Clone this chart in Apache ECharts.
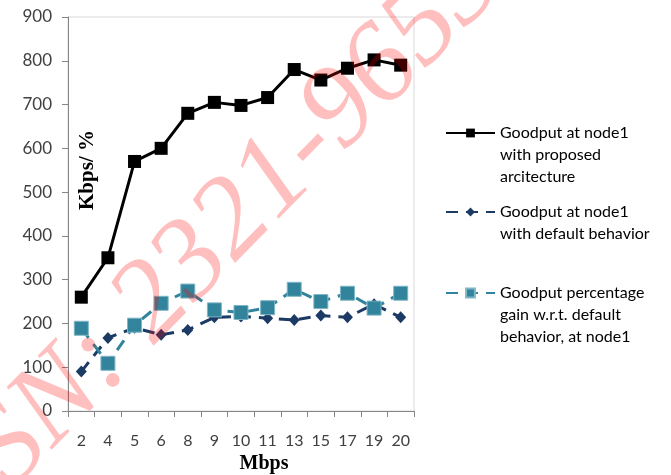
<!DOCTYPE html>
<html><head><meta charset="utf-8">
<script src="https://cdn.jsdelivr.net/npm/echarts@6/dist/echarts.min.js"></script>
<style>html,body{margin:0;padding:0;background:#fff}#c{width:671px;height:475px}</style>
</head><body><div id="c"></div>
<script>
const categories = ['2','4','5','6','8','9','10','11','13','15','17','19','20'];
const proposed = [260,350,570,600,680,705,698,716,780,756,783,802,790];
const defaultBeh = [90,167,190,174,185,214,216,212,208,218,214,244,214];
const gain = [189,109,196,246,274,231,225,236,278,250,269,235,269];
const yMin = 0, yMax = 900, yInterval = 100;
const seriesNames = [
  'Goodput at node1\nwith proposed\narcitecture',
  'Goodput at node1\nwith default behavior',
  'Goodput percentage\ngain w.r.t. default\nbehavior, at node1'
];
const xTitle = 'Mbps';
const yTitle = 'Kbps/ %';
const watermark = 'ISSN: 2321-9653';

const chart = echarts.init(document.getElementById('c'), null, {renderer:'canvas'});
const LH = 22;
function legendFor(i, top){
  return {
    left: 445, top: top, padding: 0, orient: 'vertical',
    itemWidth: 49, itemHeight: 11,
    data: [seriesNames[i]],
    formatter: function(name){ const n = name.split('\n').length; return ' \n'.repeat(n-1) + name; },
    textStyle: {fontFamily:'Lato', fontSize:16, color:'#000', lineHeight:LH}
  };
}
chart.setOption({
  animation: false,
  backgroundColor: '#fff',
  grid: {left:68, right:257, top:17, bottom:64, show:true, borderColor:'#d9d9d9', borderWidth:1,
         containLabel:false, outerBoundsMode:'none'},
  legend: [legendFor(0, 78), legendFor(1, 179), legendFor(2, 238)],
  xAxis: {
    type:'category', data: categories, boundaryGap: true,
    axisLine:{lineStyle:{color:'#868686', width:1}},
    axisTick:{show:true, length:6, lineStyle:{color:'#868686'}},
    axisLabel:{interval:0, margin:22, fontFamily:'Lato', fontSize:16, color:'#404040'},
    splitLine:{show:false},
    name: xTitle, nameLocation:'middle', nameGap:38,
    nameTextStyle:{fontFamily:'Liberation Serif', fontWeight:'bold', fontSize:20, color:'#000', padding:[0,0,0,46]}
  },
  yAxis: {
    type:'value', min:yMin, max:yMax, interval:yInterval,
    axisLine:{show:true, lineStyle:{color:'#868686', width:1}},
    axisTick:{show:true, length:6, lineStyle:{color:'#868686'}},
    axisLabel:{margin:16, fontFamily:'Lato', fontSize:17, color:'#404040'},
    splitLine:{show:false}
  },
  series: [
    {name: seriesNames[0], type:'line', data: proposed, symbol:'rect', symbolSize:13,
     lineStyle:{color:'#000', width:3}, itemStyle:{color:'#000'}},
    {name: seriesNames[1], type:'line', data: defaultBeh, symbol:'diamond', symbolSize:[11,12],
     lineStyle:{color:'#1b3a64', width:3, type:[12,8]}, itemStyle:{color:'#1b3a64'}},
    {name: seriesNames[2], type:'line', data: gain, symbol:'rect', symbolSize:14,
     lineStyle:{color:'#31849b', width:3, type:[12,8]}, itemStyle:{color:'#31849b', borderColor:'#7fb6c6', borderWidth:1}}
  ],
  graphic: [
    {type:'text', x:88, y:170, rotation:Math.PI/2, z:50,
     style:{text:yTitle, font:'bold 21px "Liberation Serif"', fill:'#000', align:'center', verticalAlign:'middle'}},
    {type:'text', x:203, y:252, rotation:45.5*Math.PI/180, z:100, silent:true,
     style:{text:watermark, font:'italic 116px "Liberation Serif"', fill:'rgba(255,0,0,0.25)', align:'center', verticalAlign:'middle'}}
  ]
});
</script></body></html>
